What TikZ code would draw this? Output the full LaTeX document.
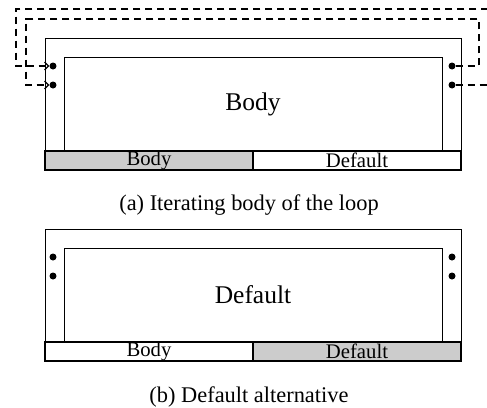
\documentclass[tikz,border=0pt]{standalone}
\usepackage{fontspec}
\setmainfont{Liberation Serif}
\usetikzlibrary{arrows.meta}
\begin{document}
\begin{tikzpicture}[x=1pt,y=-1pt,
  frame/.style={draw, line width=1.1pt, inner sep=0pt, anchor=north west,
    minimum width=416pt, minimum height=113pt},
  panel/.style={draw, line width=0.7pt, inner sep=0pt, anchor=north west,
    minimum width=378pt, minimum height=94pt},
  cell/.style={draw, line width=1.1pt, inner sep=0pt, fill=white,
    minimum width=208pt, minimum height=19pt,
    font=\fontsize{20.7}{24}\selectfont},
  active/.style={fill=black!20},
  port/.style={circle, fill=black, inner sep=0pt, minimum size=7pt},
  loop/.style={draw, dash pattern=on 7.5pt off 4.5pt, line width=1.4pt},
  back/.style={loop, -{Straight Barb[length=4pt,width=8pt,line width=1.1pt]}},
  title/.style={font=\fontsize{25.5}{30}\selectfont},
  caption/.style={font=\fontsize{22.4}{26}\selectfont, anchor=base}
]
\useasboundingbox (0,0) rectangle (487,407);
\clip (0,0) rectangle (487,407);

% ---------- (a) iterating body ----------
\node[frame] (fa) at (45,38) {};
\node[panel] (pa) at (64,57) {};
\node[title] (ta) at (253,104) {Body};
\node[cell, active] (ca1) at (149,160.5) {Body};
\node[cell] (ca2) at (357,160.5) {Default};

\node[port] (al1) at (53,66) {};
\node[port] (al2) at (53,85) {};
\node[port] (ar1) at (452,66) {};
\node[port] (ar2) at (452,85) {};

% corners of the two back edges
\coordinate (o1) at (500,9);
\coordinate (o2) at (16,9);
\coordinate (i1) at (479,19);
\coordinate (i2) at (26,19);

\draw[back] (ar2) -- (ar2 -| o1) -- (o1) -- (o2) |- (al1);
\draw[back] (ar1) -- (ar1 -| i1) -- (i1) -- (i2) |- (al2);

\node[caption] (capa) at (249,210) {(a) Iterating body of the loop};

% ---------- (b) default alternative ----------
\node[frame] (fb) at (45,229) {};
\node[panel] (pb) at (64,248) {};
\node[title] (tb) at (253,295) {Default};
\node[cell] (cb1) at (149,351.5) {Body};
\node[cell, active] (cb2) at (357,351.5) {Default};

\node[port] (bl1) at (53,257) {};
\node[port] (bl2) at (53,276) {};
\node[port] (br1) at (452,257) {};
\node[port] (br2) at (452,276) {};

\node[caption] (capb) at (249,402) {(b) Default alternative};
\end{tikzpicture}
\end{document}
